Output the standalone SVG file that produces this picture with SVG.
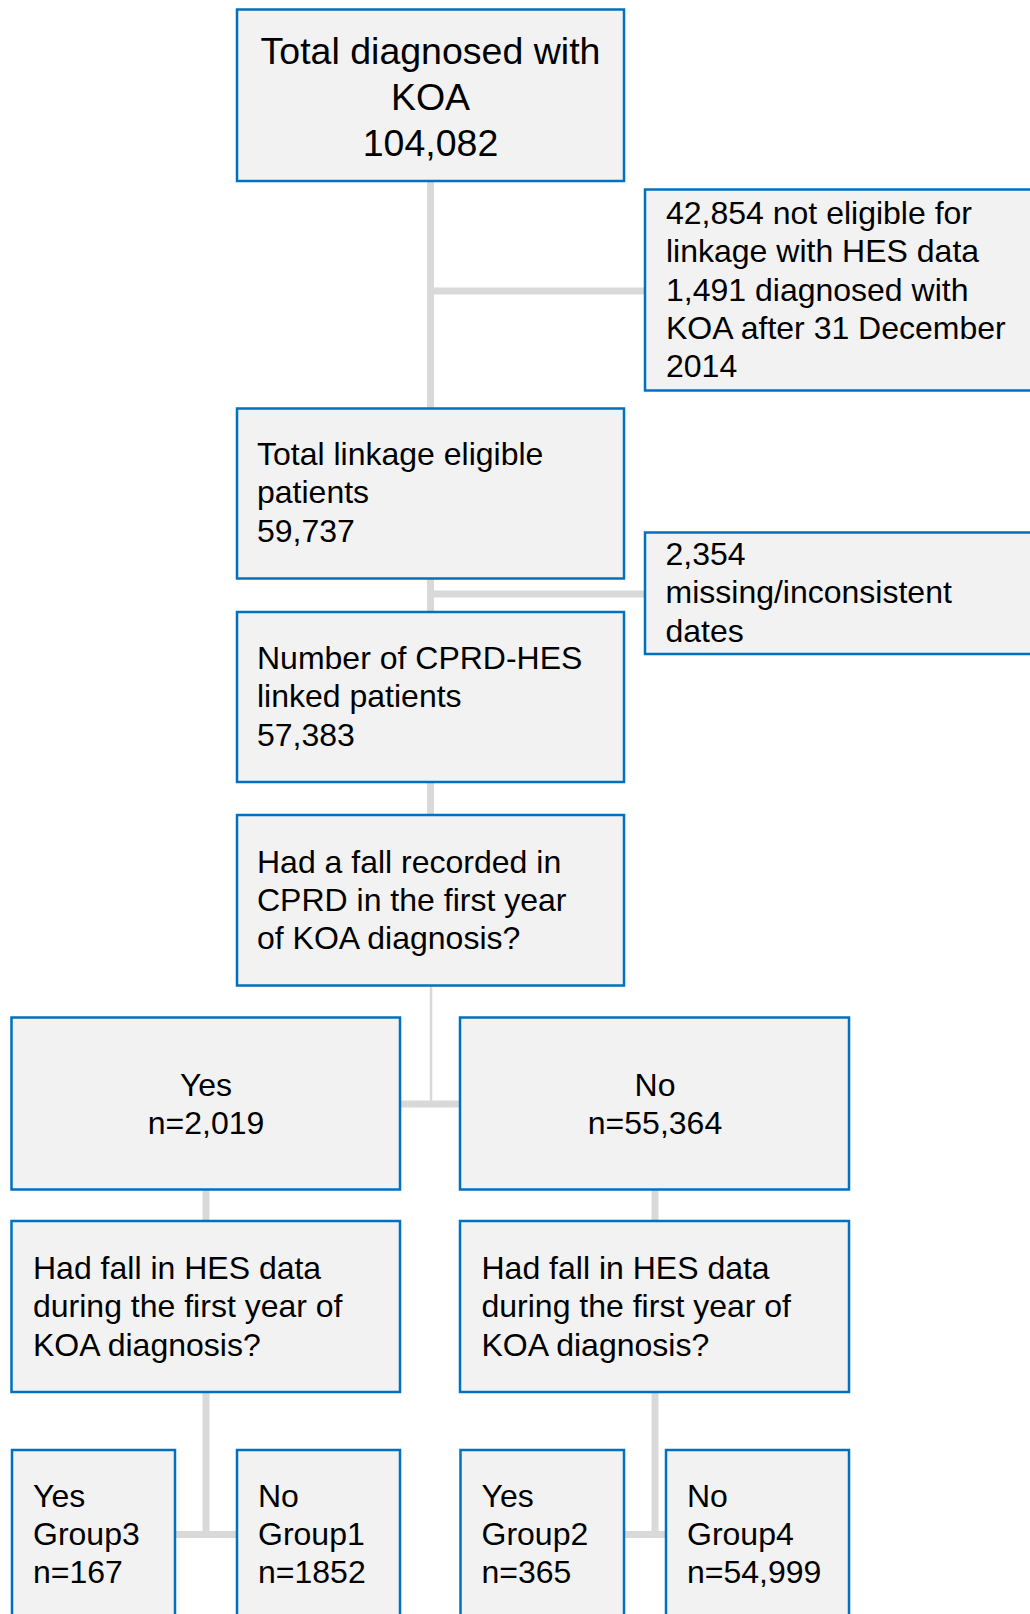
<svg xmlns="http://www.w3.org/2000/svg" width="1030" height="1614" viewBox="0 0 1030 1614">
<style>
.box{fill:#F2F2F2;stroke:#0070C0;stroke-width:2.5}
.c{stroke:#D9D9D9;stroke-width:7;fill:none}
.thin{stroke:#D9D9D9;stroke-width:2.5;fill:none}
text{font-family:"Liberation Sans",Arial,sans-serif;font-size:32px;fill:#000}
.big{font-size:37.5px}
.mid{text-anchor:middle}
</style>
<rect width="1030" height="1614" fill="#fff"/>
<g id="connectors">
<line class="c" x1="430.5" y1="181" x2="430.5" y2="408"/>
<line class="c" x1="430.5" y1="291" x2="645" y2="291"/>
<line class="c" x1="430.5" y1="578" x2="430.5" y2="612"/>
<line class="c" x1="430.5" y1="594" x2="645" y2="594"/>
<line class="c" x1="430.5" y1="782" x2="430.5" y2="815"/>
<line class="thin" x1="431" y1="985" x2="431" y2="1104"/>
<line class="c" x1="400" y1="1104" x2="460" y2="1104"/>
<line class="c" x1="206" y1="1189" x2="206" y2="1221"/>
<line class="c" x1="655" y1="1189" x2="655" y2="1221"/>
<line class="c" x1="206" y1="1392" x2="206" y2="1534.5"/>
<line class="c" x1="175" y1="1534.5" x2="237" y2="1534.5"/>
<line class="c" x1="655" y1="1392" x2="655" y2="1534.5"/>
<line class="c" x1="624" y1="1534.5" x2="666" y2="1534.5"/>
</g>
<g id="n-total">
<rect class="box" x="237" y="9.5" width="387" height="171.5"/>
<text class="big mid" x="430.5" y="64">Total diagnosed with</text>
<text class="big mid" x="430.5" y="109.5">KOA</text>
<text class="big mid" x="430.5" y="155.5">104,082</text>
</g>
<g id="n-excl1">
<rect class="box" x="645" y="189.5" width="400" height="201"/>
<text x="666" y="224">42,854 not eligible for</text>
<text x="666" y="262.3">linkage with HES data</text>
<text x="666" y="300.6">1,491 diagnosed with</text>
<text x="666" y="338.9">KOA after 31 December</text>
<text x="666" y="377.2">2014</text>
</g>
<g id="n-eligible">
<rect class="box" x="237" y="408.5" width="387" height="170"/>
<text x="257" y="465">Total  linkage eligible</text>
<text x="257" y="503.3">patients</text>
<text x="257" y="541.6">59,737</text>
</g>
<g id="n-excl2">
<rect class="box" x="645" y="532.5" width="400" height="121.5"/>
<text x="665.5" y="565">2,354</text>
<text x="665.5" y="603.3">missing/inconsistent</text>
<text x="665.5" y="641.6">dates</text>
</g>
<g id="n-linked">
<rect class="box" x="237" y="612" width="387" height="170"/>
<text x="257" y="669">Number of CPRD-HES</text>
<text x="257" y="707.3">linked patients</text>
<text x="257" y="745.6">57,383</text>
</g>
<g id="n-cprdfall">
<rect class="box" x="237" y="815" width="387" height="170.5"/>
<text x="257" y="872.5">Had a fall recorded in</text>
<text x="257" y="910.8">CPRD in the first year</text>
<text x="257" y="949.1">of KOA diagnosis?</text>
</g>
<g id="n-yes">
<rect class="box" x="11.5" y="1017.5" width="388.5" height="172"/>
<text class="mid" x="206" y="1095.5">Yes</text>
<text class="mid" x="206" y="1134">n=2,019</text>
</g>
<g id="n-no">
<rect class="box" x="460" y="1017.5" width="389" height="172"/>
<text class="mid" x="655" y="1095.5">No</text>
<text class="mid" x="655" y="1134">n=55,364</text>
</g>
<g id="n-hes-left">
<rect class="box" x="11.5" y="1221" width="388.5" height="171"/>
<text x="33" y="1279">Had fall in HES data</text>
<text x="33" y="1317.3">during the first year of</text>
<text x="33" y="1355.6">KOA diagnosis?</text>
</g>
<g id="n-hes-right">
<rect class="box" x="460" y="1221" width="389" height="171"/>
<text x="481.5" y="1279">Had fall in HES data</text>
<text x="481.5" y="1317.3">during the first year of</text>
<text x="481.5" y="1355.6">KOA diagnosis?</text>
</g>
<g id="n-group3">
<rect class="box" x="12" y="1450" width="163" height="180"/>
<text x="33" y="1506.5">Yes</text>
<text x="33" y="1544.8">Group3</text>
<text x="33" y="1583.1">n=167</text>
</g>
<g id="n-group1">
<rect class="box" x="237" y="1450" width="163" height="180"/>
<text x="258" y="1506.5">No</text>
<text x="258" y="1544.8">Group1</text>
<text x="258" y="1583.1">n=1852</text>
</g>
<g id="n-group2">
<rect class="box" x="460.5" y="1450" width="163.5" height="180"/>
<text x="481.5" y="1506.5">Yes</text>
<text x="481.5" y="1544.8">Group2</text>
<text x="481.5" y="1583.1">n=365</text>
</g>
<g id="n-group4">
<rect class="box" x="666" y="1450" width="183" height="180"/>
<text x="687" y="1506.5">No</text>
<text x="687" y="1544.8">Group4</text>
<text x="687" y="1583.1">n=54,999</text>
</g>
</svg>
